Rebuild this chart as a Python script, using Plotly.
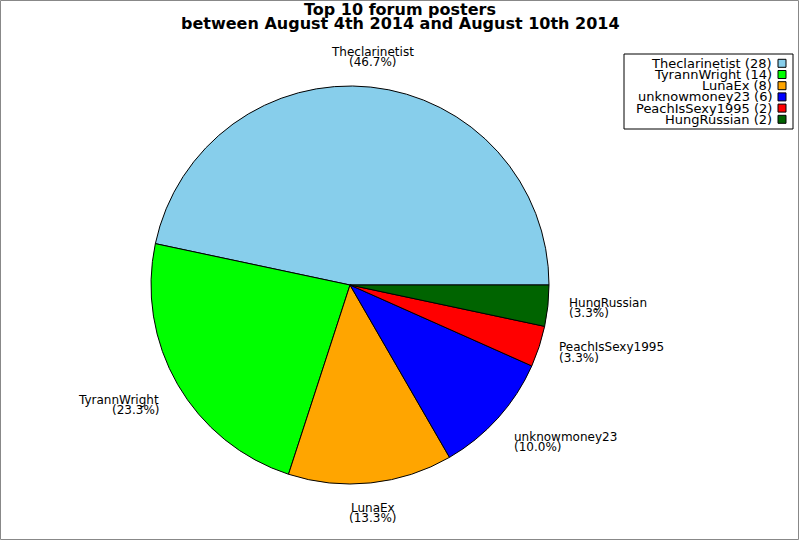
import math
import plotly.graph_objects as go

posters = ['Theclarinetist', 'TyrannWright', 'LunaEx', 'unknowmoney23',
           'PeachIsSexy1995', 'HungRussian']
posts = [28, 14, 8, 6, 2, 2]
colours = ['#87CEEB', '#00FF00', '#FFA500', '#0000FF', '#FF0000', '#006400']
title_lines = ['Top 10 forum posters',
               'between August 4th 2014 and August 10th 2014']

W, H = 800, 540
font = 'DejaVu Sans'
cx, cy, r = 350, 285, 199  # pie centre / radius in pixels
total = sum(posts)


def px(x):
    return x / W


def py(y):
    return 1 - y / H


# plotly puts the first/second slice boundary at `rotation` when going
# counterclockwise, so shift it to get the first slice starting at 3 o'clock
pie = go.Pie(labels=posters, values=posts, sort=False,
             direction='counterclockwise',
             rotation=90 - 360 * posts[0] / total,
             marker=dict(colors=colours, line=dict(color='black', width=1)),
             textinfo='none', showlegend=False,
             domain=dict(x=[px(cx - r), px(cx + r)],
                         y=[py(cy + r), py(cy - r)]),
             hoverinfo='label+value+percent')

fig = go.Figure(data=[pie])

annotations = []
for i, line in enumerate(title_lines):
    annotations.append(dict(text='<b>' + line + '</b>', x=0.5,
                            y=py(10 + 13.5 * i), xref='paper', yref='paper',
                            xanchor='center', yanchor='middle',
                            showarrow=False,
                            font=dict(family=font, size=16, color='black')))

# slice labels at 1.1 r along each slice's middle angle
start = 0
lh = 10.5
for name, n in zip(posters, posts):
    mid = math.radians((start + n / 2) / total * 360)
    start += n
    c, s = math.cos(mid), math.sin(mid)
    tx = cx + 1.1 * r * c
    ty = cy - 1.1 * r * s
    if abs(c) < 0.2:
        xa = 'center'
    elif c > 0:
        xa = 'left'
    else:
        xa = 'right'
    if s > 0.45:
        bc = ty - lh
    elif s < -0.45:
        bc = ty + lh
    else:
        bc = ty
    pct = f'({100 * n / total:.1f}%)'
    for txt, yy in ((name, bc - lh / 2), (pct, bc + lh / 2)):
        annotations.append(dict(text=txt, x=px(tx), y=py(yy), xref='paper',
                                yref='paper', xanchor=xa, yanchor='middle',
                                showarrow=False, borderpad=0,
                                font=dict(family=font, size=12,
                                          color='black')))

# legend drawn by hand so the swatches sit on the right like the original
shapes = [dict(type='rect', xref='paper', yref='paper', x0=px(0.5),
               x1=px(W - 1.5), y0=py(H - 0.5), y1=py(0.5),
               line=dict(color='#888888', width=1)),
          dict(type='rect', xref='paper', yref='paper', x0=px(624),
               x1=px(793), y0=py(129), y1=py(54),
               line=dict(color='black', width=1), fillcolor='white')]
for i, (name, n) in enumerate(zip(posters, posts)):
    yc = 63.3 + 11.2 * i
    annotations.append(dict(text=f'{name} ({n})', x=px(773), y=py(yc),
                            xref='paper', yref='paper', xanchor='right',
                            yanchor='middle', showarrow=False, borderpad=0,
                            font=dict(family=font, size=13, color='black')))
    shapes.append(dict(type='rect', xref='paper', yref='paper',
                       x0=px(778), x1=px(786), y0=py(yc + 4),
                       y1=py(yc - 4), fillcolor=colours[i],
                       line=dict(color='black', width=1)))

fig.update_layout(width=W, height=H, margin=dict(l=0, r=0, t=0, b=0),
                  paper_bgcolor='white', plot_bgcolor='white',
                  font=dict(family=font), shapes=shapes,
                  annotations=annotations)

fig.write_html('out.html', config={'displayModeBar': False},
               post_script="document.body.style.margin='0px';")
